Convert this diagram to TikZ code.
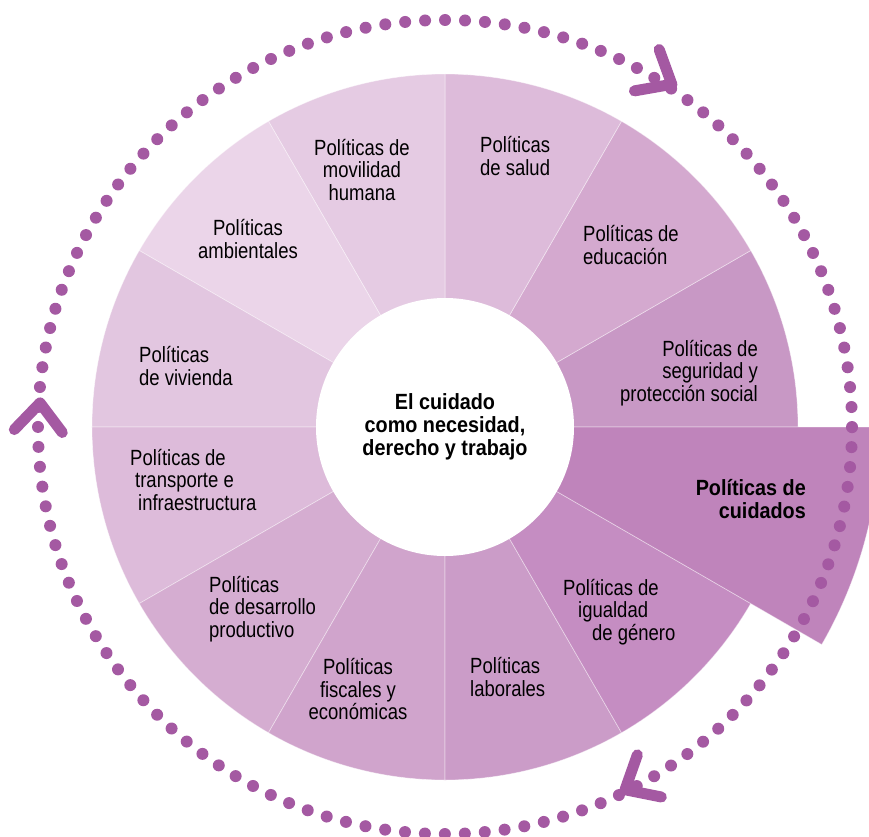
\documentclass[tikz,border=0pt]{standalone}
\usepackage{fontspec}
\setmainfont{Liberation Sans}[FakeStretch=0.84, BoldFeatures={FakeStretch=0.9}]
\usepackage{tikz}
\usetikzlibrary{positioning}

\definecolor{dotpurple}{HTML}{A459A2}
\definecolor{cSalud}{HTML}{DDBBDA}
\definecolor{cEducacion}{HTML}{D4A9CF}
\definecolor{cSeguridad}{HTML}{C898C5}
\definecolor{cCuidados}{HTML}{BF84BB}
\definecolor{cIgualdad}{HTML}{C58DC2}
\definecolor{cLaborales}{HTML}{CB9CC8}
\definecolor{cFiscales}{HTML}{D0A4CC}
\definecolor{cDesarrollo}{HTML}{D5ADD1}
\definecolor{cTransporte}{HTML}{DDBBDA}
\definecolor{cVivienda}{HTML}{E2C6E0}
\definecolor{cAmbiente}{HTML}{EBD5E9}
\definecolor{cMovilidad}{HTML}{E5CBE3}

\begin{document}
\begin{tikzpicture}[x=1pt,y=1pt,
  wedge/.style={fill=#1,draw=white,draw opacity=0.45,line width=0.7pt},
  chevron/.style={draw=dotpurple,line width=11pt,line cap=round,line join=round},
  label node/.style={inner sep=0pt,font=\fontsize{22}{22.5}\selectfont},
  hub node/.style={inner sep=0pt,align=center,font=\fontsize{22}{23}\selectfont\bfseries}]

  \clip (-445,-409) rectangle (424,427);

  % the twelve policy sectors
  \fill[wedge=cSeguridad]  (0,0) -- (0:353)   arc (0:30:353)    -- cycle;
  \fill[wedge=cEducacion]  (0,0) -- (30:353)  arc (30:60:353)   -- cycle;
  \fill[wedge=cSalud]      (0,0) -- (60:353)  arc (60:90:353)   -- cycle;
  \fill[wedge=cMovilidad]  (0,0) -- (90:353)  arc (90:120:353)  -- cycle;
  \fill[wedge=cAmbiente]   (0,0) -- (120:353) arc (120:150:353) -- cycle;
  \fill[wedge=cVivienda]   (0,0) -- (150:353) arc (150:180:353) -- cycle;
  \fill[wedge=cTransporte] (0,0) -- (180:353) arc (180:210:353) -- cycle;
  \fill[wedge=cDesarrollo] (0,0) -- (210:353) arc (210:240:353) -- cycle;
  \fill[wedge=cFiscales]   (0,0) -- (240:353) arc (240:270:353) -- cycle;
  \fill[wedge=cLaborales]  (0,0) -- (270:353) arc (270:300:353) -- cycle;
  \fill[wedge=cIgualdad]   (0,0) -- (300:353) arc (300:330:353) -- cycle;
  \fill[wedge=cCuidados]   (0,0) -- (330:435) arc (330:360:435) -- cycle;

  \fill[white] (0,0) circle (129);

  % dotted cycle with its three heads
  \draw[dotpurple,line width=12pt,line cap=round,dash pattern=on 0pt off 19.98pt] (0,0) circle (407);
  \coordinate (headA) at (56.5:411);
  \coordinate (headB) at (176.6:405.7);
  \coordinate (headC) at (-63.6:405);
  \draw[chevron] (headA) ++(110:37) -- (headA) -- ++(190:38);
  \draw[chevron] (headB) ++(226:37) -- (headB) -- ++(307:37);
  \draw[chevron] (headC) ++(70.6:37) -- (headC) -- ++(-11.3:37);

  \node[hub node] (hub) at (0,0) {El cuidado\\como necesidad,\\derecho y trabajo};

  \node[label node,align=center] (movilidad) at (-83,257) {Políticas de\\movilidad\\humana};
  \node[label node,align=center] (ambiente) at (-197,188) {Políticas\\ambientales};
  \node[label node,align=left,anchor=west] (vivienda) at (-306,61) {Políticas\\de vivienda};
  \node[label node,align=left,anchor=west] (salud) at (35,271) {Políticas\\de salud};
  \node[label node,align=left,anchor=west] (educacion) at (138,182) {Políticas de\\educación};
  \node[label node,align=right,anchor=east] (seguridad) at (313,54) {Políticas de\\seguridad y\\protección social};
  \node[label node,align=left,anchor=west] (transporte) at (-315,-53) {Políticas de\\\hspace*{5pt}transporte e\\\hspace*{8pt}infraestructura};
  \node[label node,align=left,anchor=west] (desarrollo) at (-236,-182) {Políticas\\de desarrollo\\productivo};
  \node[label node,align=center] (fiscales) at (-87,-262) {Políticas\\fiscales y\\económicas};
  \node[label node,align=left,anchor=west] (laborales) at (25,-250) {Políticas\\laborales};
  \node[label node,align=left,anchor=west] (igualdad) at (118,-185) {Políticas de\\\hspace*{15pt}igualdad\\\hspace*{29pt}de género};
  \node[label node,align=right,anchor=east,font=\fontsize{22}{22.5}\selectfont\bfseries] (cuidados) at (361,-72) {Políticas de\\cuidados};
\end{tikzpicture}
\end{document}
